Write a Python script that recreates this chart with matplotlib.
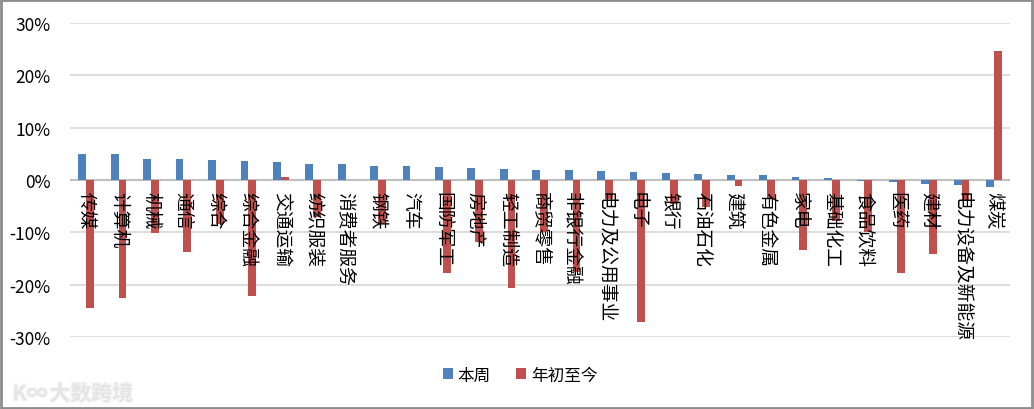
import numpy as np
import matplotlib
matplotlib.use("Agg")
from matplotlib import pyplot as plt
from matplotlib.patches import Rectangle
from matplotlib.ticker import FuncFormatter
import matplotlib.patheffects as pe

plt.rcParams['font.family'] = ['Noto Sans CJK SC', 'DejaVu Sans']

industries = ['传媒', '计算机', '机械', '通信', '综合', '综合金融', '交通运输', '纺织服装',
              '消费者服务', '钢铁', '汽车', '国防军工', '房地产', '轻工制造', '商贸零售',
              '非银行金融', '电力及公用事业', '电子', '银行', '石油石化', '建筑', '有色金属',
              '家电', '基础化工', '食品饮料', '医药', '建材', '电力设备及新能源', '煤炭']
week = [5.0, 4.9, 4.1, 4.0, 3.8, 3.6, 3.4, 3.1, 3.0, 2.7, 2.7, 2.5, 2.3, 2.1, 1.9,
        1.9, 1.7, 1.5, 1.3, 1.1, 1.0, 0.95, 0.6, 0.35, -0.2, -0.45, -0.8, -1.0, -1.3]
ytd = [-24.5, -22.6, -10.1, -13.8, -8.4, -22.1, 0.6, -7.1, 0.0, -8.3, 0.0, -17.8,
       -11.8, -20.6, -10.0, -17.5, -3.6, -27.2, -4.6, -5.2, -1.1, -3.6, -13.3, -7.8,
       -10.0, -17.8, -14.1, -4.0, 24.6]
yticks = [-30, -20, -10, 0, 10, 20, 30]

blue = '#4F81BD'
red = '#C0504D'

fig = plt.figure(figsize=(10.34, 4.10), dpi=100)
ax = fig.add_axes([0.0677, 0.1756, 0.9093, 0.7659])

x = np.arange(len(industries))
w = 0.24
ax.bar(x - w / 2, week, width=w, color=blue, label='本周', zorder=3)
ax.bar(x + w / 2, ytd, width=w, color=red, label='年初至今', zorder=3)

ax.set_xlim(-0.5, len(industries) - 0.5)
ax.set_ylim(-30, 30)
ax.set_yticks(yticks)
ax.yaxis.set_major_formatter(FuncFormatter(lambda v, p: '%d%%' % v))
ax.tick_params(axis='y', length=0, labelsize=12.5, pad=14)
ax.set_xticks([])
for s in ax.spines.values():
    s.set_visible(False)
ax.grid(axis='y', color='#D9D9D9', linewidth=1.3, zorder=0)
ax.axhline(0, color='#BFBFBF', linewidth=1.5, zorder=2)

# category labels, vertical, hanging from the zero line
for xi, name in zip(x, industries):
    ax.annotate(name, xy=(xi, 0), xytext=(0, -8), textcoords='offset points',
                rotation=270, ha='center', va='top', fontsize=13.5, zorder=4)

ax.legend(loc='center', frameon=False, ncol=2, fontsize=12,
          handlelength=0.6, handleheight=0.6, handletextpad=0.3, columnspacing=1.5)
ax.get_legend().set_bbox_to_anchor((0.503, 0.083), transform=fig.transFigure)

# watermark
fig.text(0.012, 0.037, 'K∞', fontsize=15, color='#E4E4E4', ha='left', va='center',
         fontweight='bold', path_effects=[pe.withStroke(linewidth=2, foreground='#F6F6F6')])
fig.text(0.048, 0.037, '大数跨境', fontsize=15, color='#E4E4E4', ha='left', va='center',
         fontweight='bold', path_effects=[pe.withStroke(linewidth=2, foreground='#F6F6F6')])

fig.patches.append(Rectangle((0.001, 0.002), 0.997, 0.995, transform=fig.transFigure,
                             fill=False, edgecolor='#8C8C8C', linewidth=2))

fig.savefig('out.png', dpi=100)
